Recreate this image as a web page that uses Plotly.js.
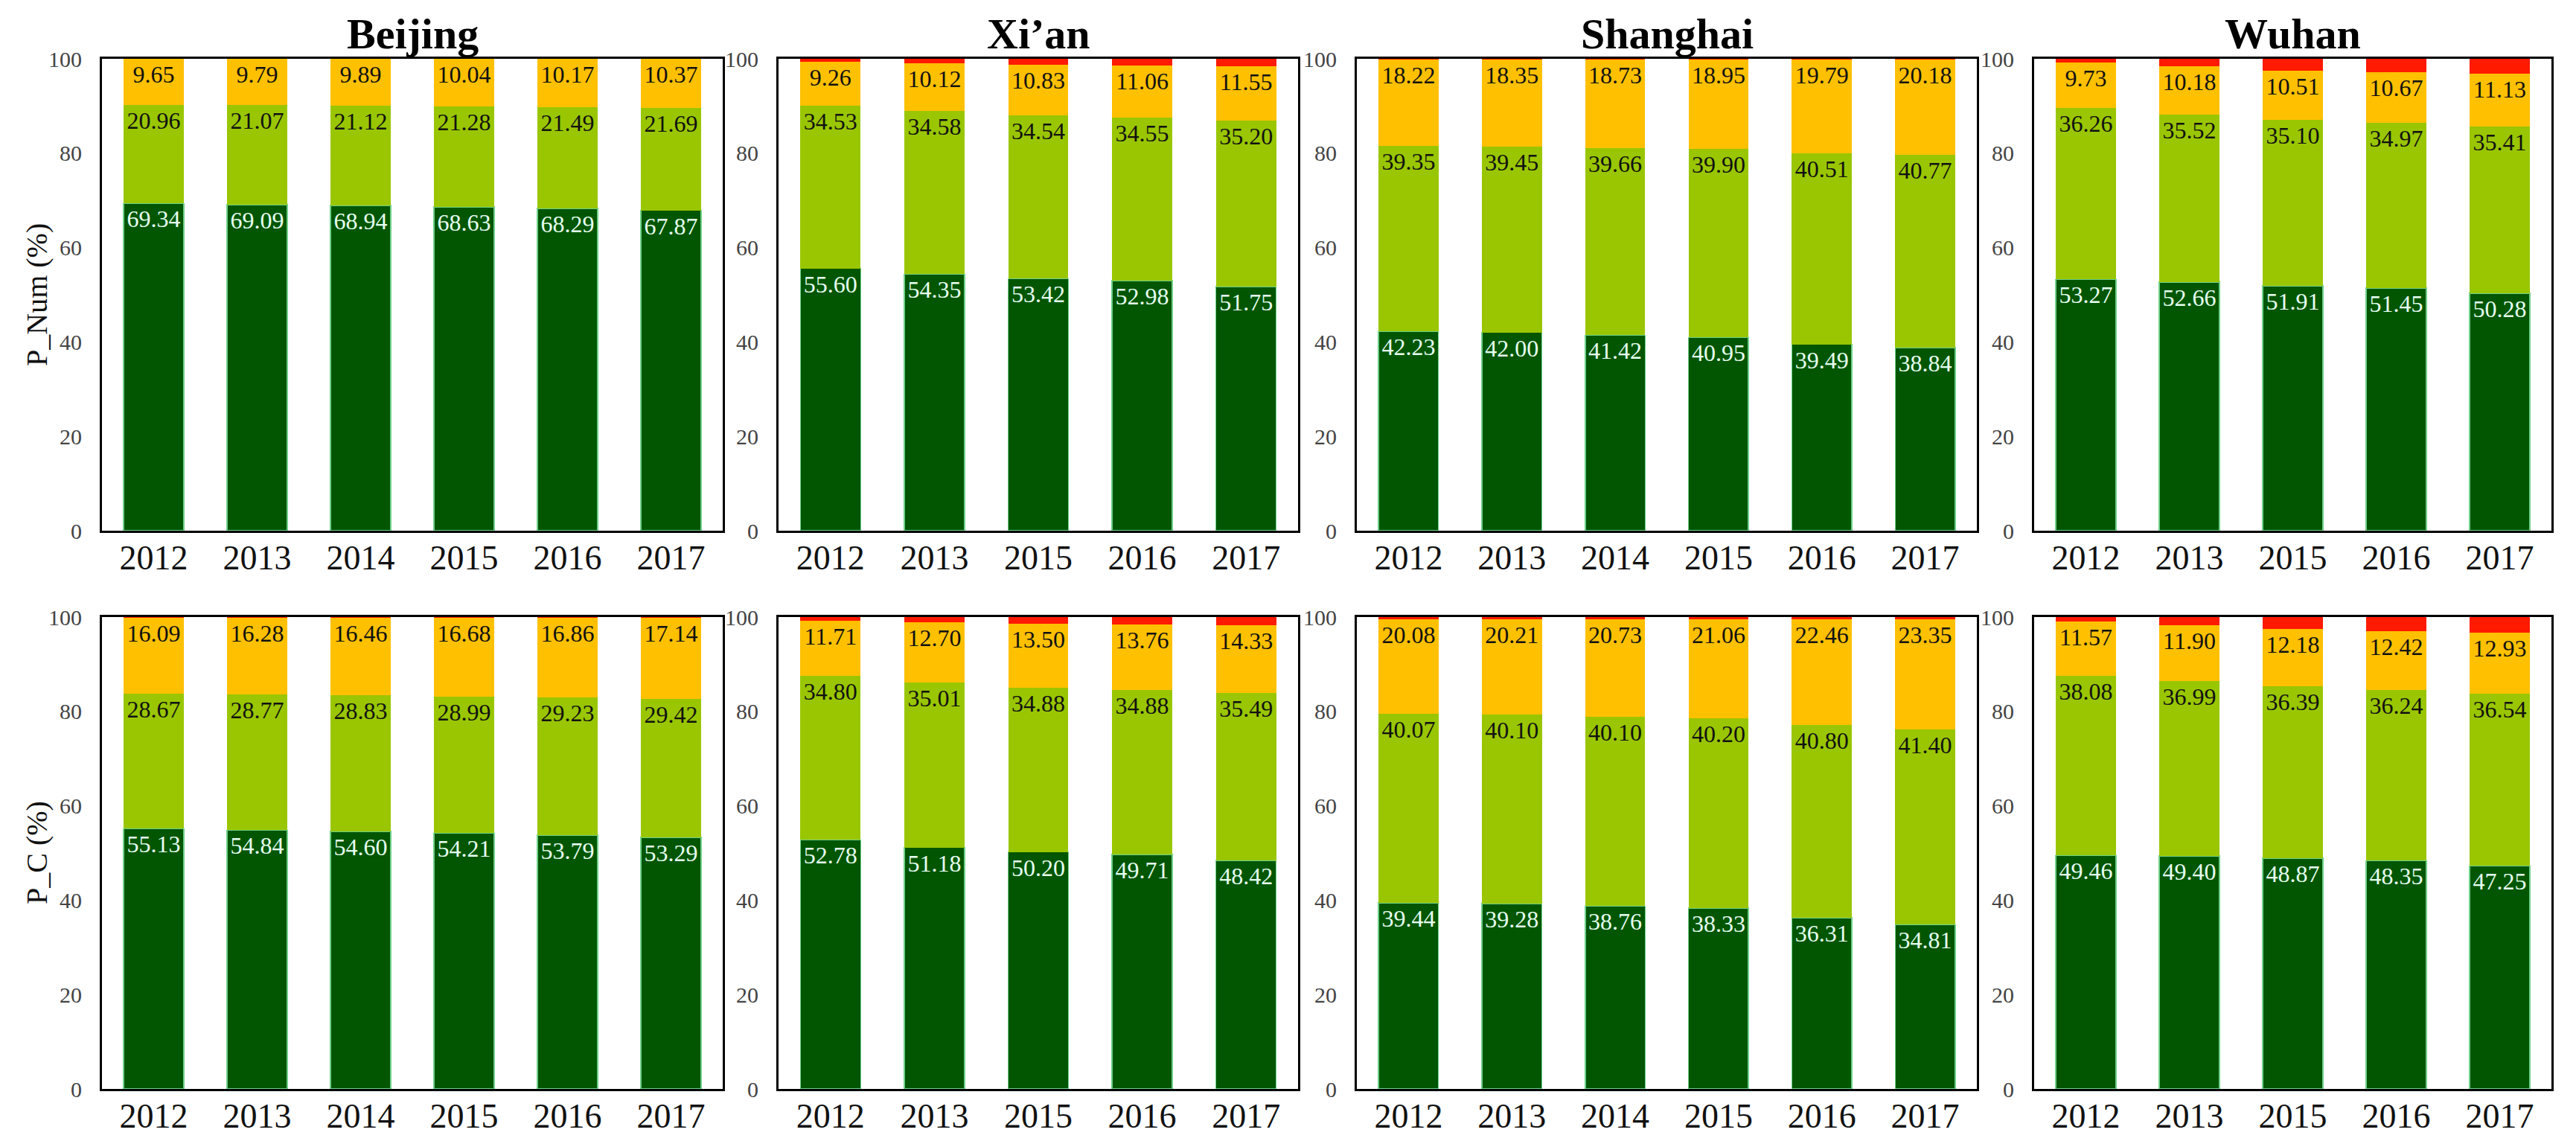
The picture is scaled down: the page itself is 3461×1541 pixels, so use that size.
<!DOCTYPE html>
<html><head><meta charset="utf-8">
<script src="https://cdn.plot.ly/plotly-3.0.1.min.js"></script>
<style>html,body{margin:0;padding:0;background:#fff}</style>
</head><body><div id="chart" style="width:3461px;height:1541px"></div>
<script>
// ---------- data ----------
const cities = ['Beijing', 'Xi\u2019an', 'Shanghai', 'Wuhan'];
const rowTitles = ['P_Num (%)', 'P_C (%)'];

const yearsBeijing  = ['2012','2013','2014','2015','2016','2017'];
const yearsXian     = ['2012','2013','2015','2016','2017'];
const yearsShanghai = ['2012','2013','2014','2015','2016','2017'];
const yearsWuhan    = ['2012','2013','2015','2016','2017'];

// P_Num (%) : level1 (dark green), level2 (light green), level3 (orange), level4 (red)
const numBeijingL1  = [69.34, 69.09, 68.94, 68.63, 68.29, 67.87];
const numBeijingL2  = [20.96, 21.07, 21.12, 21.28, 21.49, 21.69];
const numBeijingL3  = [9.65, 9.79, 9.89, 10.04, 10.17, 10.37];
const numBeijingL4  = [0.05, 0.05, 0.05, 0.05, 0.05, 0.07];

const numXianL1     = [55.60, 54.35, 53.42, 52.98, 51.75];
const numXianL2     = [34.53, 34.58, 34.54, 34.55, 35.20];
const numXianL3     = [9.26, 10.12, 10.83, 11.06, 11.55];
const numXianL4     = [0.61, 0.95, 1.21, 1.41, 1.50];

const numShanghaiL1 = [42.23, 42.00, 41.42, 40.95, 39.49, 38.84];
const numShanghaiL2 = [39.35, 39.45, 39.66, 39.90, 40.51, 40.77];
const numShanghaiL3 = [18.22, 18.35, 18.73, 18.95, 19.79, 20.18];
const numShanghaiL4 = [0.20, 0.20, 0.19, 0.20, 0.21, 0.21];

const numWuhanL1    = [53.27, 52.66, 51.91, 51.45, 50.28];
const numWuhanL2    = [36.26, 35.52, 35.10, 34.97, 35.41];
const numWuhanL3    = [9.73, 10.18, 10.51, 10.67, 11.13];
const numWuhanL4    = [0.74, 1.64, 2.48, 2.91, 3.18];

// P_C (%)
const cBeijingL1    = [55.13, 54.84, 54.60, 54.21, 53.79, 53.29];
const cBeijingL2    = [28.67, 28.77, 28.83, 28.99, 29.23, 29.42];
const cBeijingL3    = [16.09, 16.28, 16.46, 16.68, 16.86, 17.14];
const cBeijingL4    = [0.11, 0.11, 0.11, 0.12, 0.12, 0.15];

const cXianL1       = [52.78, 51.18, 50.20, 49.71, 48.42];
const cXianL2       = [34.80, 35.01, 34.88, 34.88, 35.49];
const cXianL3       = [11.71, 12.70, 13.50, 13.76, 14.33];
const cXianL4       = [0.71, 1.11, 1.42, 1.65, 1.76];

const cShanghaiL1   = [39.44, 39.28, 38.76, 38.33, 36.31, 34.81];
const cShanghaiL2   = [40.07, 40.10, 40.10, 40.20, 40.80, 41.40];
const cShanghaiL3   = [20.08, 20.21, 20.73, 21.06, 22.46, 23.35];
const cShanghaiL4   = [0.41, 0.41, 0.41, 0.41, 0.43, 0.44];

const cWuhanL1      = [49.46, 49.40, 48.87, 48.35, 47.25];
const cWuhanL2      = [38.08, 36.99, 36.39, 36.24, 36.54];
const cWuhanL3      = [11.57, 11.90, 12.18, 12.42, 12.93];
const cWuhanL4      = [0.89, 1.71, 2.56, 2.99, 3.28];

const yTicks = [0, 20, 40, 60, 80, 100];

// ---------- style ----------
const W = 3461, H = 1541;
const levelColors = ['#025602', '#99C600', '#FFC000', '#FF1A00'];
const levelTextColors = ['#e6fff0', '#111111', '#111111', '#111111'];
const FONT = 'Liberation Serif, Times New Roman, serif';

// panel pixel boxes
const colPx = [[137, 971], [1046, 1744], [1823, 2656], [2733, 3428]];
const rowPx = [[79, 713], [829, 1463]];

const panels = [
  [yearsBeijing,  [numBeijingL1, numBeijingL2, numBeijingL3, numBeijingL4]],
  [yearsXian,     [numXianL1, numXianL2, numXianL3, numXianL4]],
  [yearsShanghai, [numShanghaiL1, numShanghaiL2, numShanghaiL3, numShanghaiL4]],
  [yearsWuhan,    [numWuhanL1, numWuhanL2, numWuhanL3, numWuhanL4]],
  [yearsBeijing,  [cBeijingL1, cBeijingL2, cBeijingL3, cBeijingL4]],
  [yearsXian,     [cXianL1, cXianL2, cXianL3, cXianL4]],
  [yearsShanghai, [cShanghaiL1, cShanghaiL2, cShanghaiL3, cShanghaiL4]],
  [yearsWuhan,    [cWuhanL1, cWuhanL2, cWuhanL3, cWuhanL4]]
];

const traces = [];
const layout = {
  width: W, height: H,
  margin: {l: 0, r: 0, t: 0, b: 0},
  paper_bgcolor: '#ffffff', plot_bgcolor: '#ffffff',
  barmode: 'stack', bargap: 0.42,
  showlegend: false,
  font: {family: FONT, color: '#111'},
  annotations: []
};

panels.forEach((p, i) => {
  const row = Math.floor(i / 4), col = i % 4;
  const n = i + 1;
  const xa = 'x' + (n === 1 ? '' : n), ya = 'y' + (n === 1 ? '' : n);
  const [years, levels] = p;
  levels.forEach((vals, k) => {
    traces.push({
      type: 'bar', x: years, y: vals, xaxis: xa, yaxis: ya,
      marker: {color: levelColors[k], line: {width: k === 0 ? 1.5 : 0, color: '#6fd08a'}},
      text: k < 3 ? vals.map(v => v.toFixed(2)) : vals.map(() => ''),
      textposition: k < 3 ? 'inside' : 'none',
      insidetextanchor: 'end',
      textangle: 0,
      constraintext: 'none',
      insidetextfont: {family: FONT, size: 32, color: levelTextColors[k]},
      hoverinfo: 'skip'
    });
  });
  const xd = [colPx[col][0] / W, colPx[col][1] / W];
  const yd = [1 - rowPx[row][1] / H, 1 - rowPx[row][0] / H];
  layout['xaxis' + (n === 1 ? '' : n)] = {
    domain: xd, anchor: ya, type: 'category',
    showline: true, mirror: true, linecolor: '#000', linewidth: 3,
    showgrid: false, zeroline: false,
    ticks: '', ticklabelstandoff: -6,
    tickfont: {family: FONT, size: 46, color: '#111'}
  };
  layout['yaxis' + (n === 1 ? '' : n)] = {
    domain: yd, anchor: xa, range: [0, 100],
    tickvals: yTicks, ticktext: yTicks.map(String),
    showline: true, mirror: true, linecolor: '#000', linewidth: 3,
    showgrid: false, zeroline: false,
    ticks: 'outside', ticklen: 18, tickcolor: 'rgba(0,0,0,0)',
    tickfont: {family: FONT, size: 30, color: '#444'}
  };
  if (row === 0) {
    layout.annotations.push({
      text: '<b>' + cities[col] + '</b>', xref: 'paper', yref: 'paper',
      x: (xd[0] + xd[1]) / 2, y: 1 - 45 / H, xanchor: 'center', yanchor: 'middle',
      showarrow: false, font: {family: FONT, size: 58, color: '#000'}
    });
  }
  if (col === 0) {
    layout.annotations.push({
      text: rowTitles[row], xref: 'paper', yref: 'paper', textangle: -90,
      x: 49 / W, y: (yd[0] + yd[1]) / 2, xanchor: 'center', yanchor: 'middle',
      showarrow: false, font: {family: FONT, size: 40, color: '#111'}
    });
  }
});

Plotly.newPlot('chart', traces, layout, {displayModeBar: false, staticPlot: true});
</script>
</body></html>
